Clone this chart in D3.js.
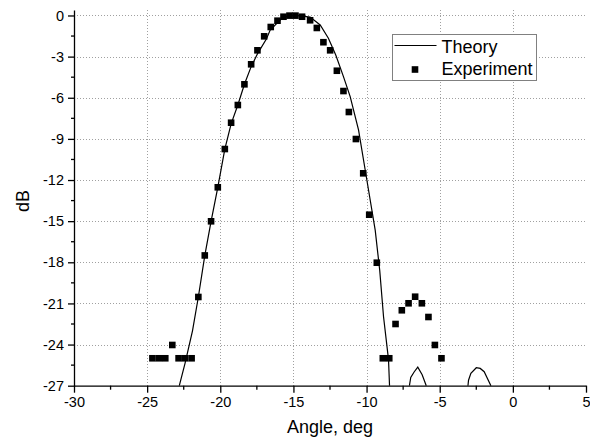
<!DOCTYPE html>
<html lang="en">
	<head>
		<meta charset="utf-8">
		<title>Theory vs Experiment</title>
		<script type="text/javascript" src="https://cdn.jsdelivr.net/npm/d3@7/dist/d3.min.js"></script>
	</head>
	<style>
	body { margin: 0; background: #fff; }
	.axis { font: 14.5px Arial, "Liberation Sans", sans-serif; }
	.axis path, .axis line { fill: none; stroke: #000; stroke-width: 1.3px; }
	.grid line { stroke: #a0a0a0; stroke-dasharray: 1,2; }
	.title { font: 18px Arial, "Liberation Sans", sans-serif; }
	</style>
	<body>
		<script type="text/javascript">
			// experiment points
			var expAngle = [-24.64, -24.2, -23.76, -23.28, -22.85, -22.41, -21.96, -21.5, -21.06, -20.63,
			                -20.17, -19.69, -19.26, -18.8, -18.35, -17.89, -17.46, -17.0, -16.55, -16.09,
			                -15.68, -15.27, -14.86, -14.41, -13.86, -13.4, -12.95, -12.49, -12.03, -11.58,
			                -11.21, -10.73, -10.23, -9.82, -9.3, -8.89, -8.45, -8.02, -7.59, -7.13,
			                -6.68, -6.22, -5.77, -5.33, -4.88];
			var expDB = [-25, -25, -25, -24.03, -25, -25, -25, -20.53, -17.5, -15.01,
			             -12.53, -9.74, -7.82, -6.53, -5.02, -3.56, -2.54, -1.52, -0.84, -0.38,
			             -0.09, -0.01, -0.01, -0.09, -0.35, -0.91, -1.95, -2.54, -4.03, -5.51,
			             -7.04, -9.01, -11.51, -14.53, -18.03, -25, -25, -22.5, -21.5, -20.99,
			             -20.51, -20.99, -21.99, -24.03, -25];

			// theory curve, null = below the axis (gap)
			var thAngle = [-22.8, -22.41, -21.9, -21.5, -21.06, -20.63, -20.17, -19.69, -19.26, -18.8,
			               -18.35, -17.89, -17.44, -16.84, -16.59, -15.91, -15.5, -15.0, -14.5, -13.86,
			               -13.17, -12.61, -12.1, -11.58, -11.12, -10.55, -9.98, -9.41, -9.1, -8.84,
			               -8.5, -8.43, null,
			               -7.07, -6.98, -6.75, -6.5, -6.2, -5.92, null,
			               -3.07, -3.03, -2.87, -2.5, -2.23, -1.96, -1.5];
			var thDB = [-27, -25.37, -23.0, -20.53, -17.52, -15.01, -12.53, -9.74, -7.9, -6.53,
			            -5.02, -3.73, -2.76, -1.7, -1.06, -0.33, -0.08, 0, -0.03, -0.12,
			            -0.69, -1.66, -2.9, -4.46, -5.92, -8.35, -12.0, -15.65, -18.6, -21.97,
			            -25.1, -27, null,
			            -27, -26.4, -26.0, -25.65, -26.2, -27, null,
			            -27, -26.6, -26.1, -25.69, -25.74, -25.98, -27];

			var xMajor = [-30, -25, -20, -15, -10, -5, 0, 5];
			var yMajor = [0, -3, -6, -9, -12, -15, -18, -21, -24, -27];

			var width = 590, height = 437;
			var x = d3.scaleLinear().domain([-30, 5]).range([74, 586]);
			var y = d3.scaleLinear().domain([-27, 0.4]).range([385.7, 10]);

			var svg = d3.select("body").append("svg")
				.attr("width", width)
				.attr("height", height);

			var xMinor = d3.range(-27.5, 5, 5);
			var yMinor = d3.range(-25.5, 0, 3);
			var plain = function(d) { return String(d); }; // hyphen minus like the original

			// grid
			svg.append("g").attr("class", "grid")
				.selectAll("line").data(xMajor.filter(function(d) { return d > -30 && d < 5; }))
				.enter().append("line")
				.attr("x1", function(d) { return Math.round(x(d)) + 0.5; })
				.attr("x2", function(d) { return Math.round(x(d)) + 0.5; })
				.attr("y1", y(0.4)).attr("y2", y(-27));
			svg.append("g").attr("class", "grid")
				.selectAll("line").data(yMajor.filter(function(d) { return d > -27; }))
				.enter().append("line")
				.attr("y1", function(d) { return Math.round(y(d)) + 0.5; })
				.attr("y2", function(d) { return Math.round(y(d)) + 0.5; })
				.attr("x1", x(-30)).attr("x2", x(5));

			// axes
			var gx = svg.append("g")
				.attr("class", "axis")
				.attr("transform", "translate(0," + y(-27) + ")")
				.call(d3.axisBottom(x).tickValues(xMajor).tickFormat(plain).tickSize(7).tickSizeOuter(0).tickPadding(4));
			gx.selectAll(".minor").data(xMinor).enter().append("line")
				.attr("x1", function(d) { return x(d); }).attr("x2", function(d) { return x(d); })
				.attr("y1", 0).attr("y2", 4);

			var gy = svg.append("g")
				.attr("class", "axis")
				.attr("transform", "translate(" + x(-30) + ",0)")
				.call(d3.axisLeft(y).tickValues(yMajor).tickFormat(plain).tickSize(6).tickSizeOuter(0).tickPadding(4));
			gy.selectAll(".minor").data(yMinor).enter().append("line")
				.attr("y1", function(d) { return y(d); }).attr("y2", function(d) { return y(d); })
				.attr("x1", 0).attr("x2", -3);
			gx.selectAll("text").attr("fill", "#000");
			gy.selectAll("text").attr("fill", "#000");

			svg.append("text").attr("class", "title")
				.attr("x", 330).attr("y", 433)
				.attr("text-anchor", "middle")
				.text("Angle, deg");
			svg.append("text").attr("class", "title")
				.attr("transform", "translate(29," + 201 + ") rotate(-90)")
				.attr("text-anchor", "middle")
				.text("dB");

			// theory line
			var th = thAngle.map(function(d, i) { return {a: d, v: thDB[i]}; });
			var line = d3.line()
				.defined(function(d) { return d.a !== null; })
				.x(function(d) { return x(d.a); })
				.y(function(d) { return y(d.v); });
			svg.append("path")
				.datum(th)
				.attr("d", line)
				.attr("fill", "none")
				.attr("stroke", "#000")
				.attr("stroke-width", 1.2);

			// experiment squares
			var sq = 6.6;
			svg.selectAll("rect.pt")
				.data(expAngle)
				.enter().append("rect")
				.attr("class", "pt")
				.attr("x", function(d) { return x(d) - sq / 2; })
				.attr("y", function(d, i) { return y(expDB[i]) - sq / 2; })
				.attr("width", sq)
				.attr("height", sq)
				.attr("fill", "#000");

			// legend
			var lg = svg.append("g").attr("transform", "translate(392.5,34.5)");
			lg.append("rect")
				.attr("width", 144).attr("height", 46)
				.attr("fill", "#fff").attr("stroke", "#808080").attr("stroke-width", 1);
			lg.append("line")
				.attr("x1", 2).attr("x2", 44).attr("y1", 11).attr("y2", 11)
				.attr("stroke", "#000").attr("stroke-width", 1.2);
			lg.append("rect")
				.attr("x", 22.5 - sq / 2).attr("y", 35 - sq / 2)
				.attr("width", sq).attr("height", sq).attr("fill", "#000");
			lg.append("text").attr("class", "title").attr("x", 49).attr("y", 18.5).text("Theory");
			lg.append("text").attr("class", "title").attr("x", 49).attr("y", 40.5).text("Experiment");
		</script>
	</body>
</html>
